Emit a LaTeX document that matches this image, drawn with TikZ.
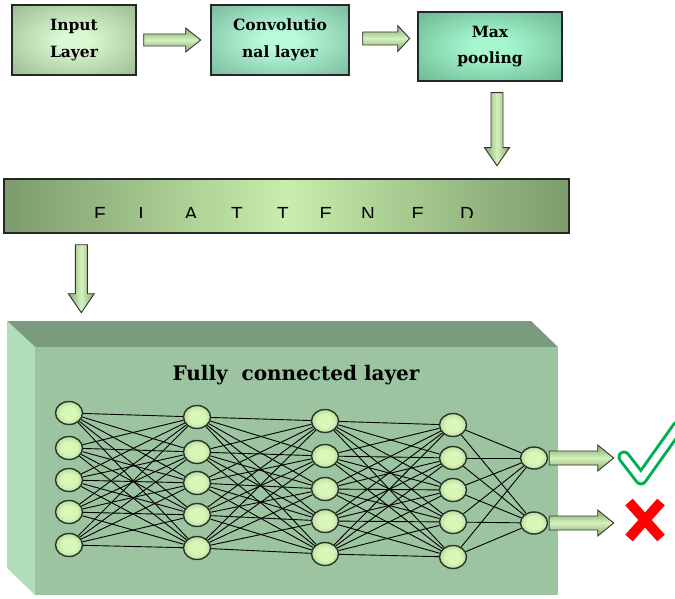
\documentclass[tikz,border=0pt]{standalone}
\usepackage{fontspec}
\setmainfont{DejaVu Serif}
\newfontfamily\flatfont{Liberation Sans}
\usetikzlibrary{shapes.geometric,calc}
\definecolor{inC}{HTML}{DAF8D2}
\definecolor{inE}{HTML}{7E9E72}
\definecolor{convC}{HTML}{B8FCDC}
\definecolor{convE}{HTML}{5E9A7E}
\definecolor{maxC}{HTML}{A6F7D0}
\definecolor{maxE}{HTML}{4F9A72}
\definecolor{flatE}{HTML}{7C9B6C}
\definecolor{flatC}{HTML}{C8EDAC}
\definecolor{arrE}{HTML}{86A66A}
\definecolor{arrC}{HTML}{D4F2BC}
\definecolor{nC}{HTML}{D8F8B8}
\definecolor{nE}{HTML}{7E9E66}
\definecolor{nLine}{HTML}{2A352A}
\definecolor{boxTop}{HTML}{7B9A7E}
\definecolor{boxFront}{HTML}{9DC4A1}
\definecolor{boxLeft}{HTML}{B1DEBA}
\definecolor{okgreen}{HTML}{00B050}
\pgfdeclareradialshading{inglow}{\pgfpoint{0bp}{0bp}}{color(0bp)=(inC); color(6bp)=(inC); color(50bp)=(inE)}
\pgfdeclareradialshading{convglow}{\pgfpoint{0bp}{0bp}}{color(0bp)=(convC); color(6bp)=(convC); color(50bp)=(convE)}
\pgfdeclareradialshading{maxglow}{\pgfpoint{0bp}{0bp}}{color(0bp)=(maxC); color(6bp)=(maxC); color(50bp)=(maxE)}
\pgfdeclareradialshading{neuronglow}{\pgfpoint{0bp}{0bp}}{color(0bp)=(nC); color(14bp)=(nC); color(50bp)=(nE)}
\begin{document}
\begin{tikzpicture}[x=1pt,y=-1pt,
  stage/.style={draw=black!85, line width=1.4pt, minimum height=70, align=center,
    shade, font=\fontsize{15.5}{26.5}\selectfont\bfseries},
  arrsty/.style={draw=black!80, line width=0.9pt, top color=arrE, bottom color=arrE, middle color=arrC},
  varrsty/.style={draw=black!80, line width=0.9pt, left color=arrE, right color=arrE, middle color=arrC},
  neuron/.style={ellipse, draw=nLine, line width=1.4pt, shade, shading=neuronglow,
    minimum width=27, minimum height=23, inner sep=0},
  wire/.style={line width=0.9pt, black},
  flatletter/.style={font=\flatfont\fontsize{19}{19}\selectfont, anchor=base, inner sep=0}
]
\useasboundingbox (0,0) rectangle (675,599);

% top row
\node[stage, shading=inglow, minimum width=124] (in) at (74,40) {Input\\Layer};
\node[stage, shading=convglow, minimum width=138] (conv) at (280,40) {Convolutio\\nal layer};
\node[stage, shading=maxglow, minimum width=144, minimum height=69] (max) at (490,46.5) {Max\\pooling};

\draw[arrsty] ($(in.east)+(7,-6)$) -- ++(42,0) -- ++(0,-6) -- ++(15,12) -- ++(-15,12) -- ++(0,-6) -- ++(-42,0) -- cycle;
\draw[arrsty] ($(conv.east)+(13,-8)$) -- ++(35,0) -- ++(0,-6.5) -- ++(12,13) -- ++(-12,13) -- ++(0,-6.5) -- ++(-35,0) -- cycle;
\draw[varrsty] ($(max.south)+(1,11)$) -- ++(0,55) -- ++(-6.5,0) -- ++(12.5,18) -- ++(12.5,-18) -- ++(-6.5,0) -- ++(0,-55) -- cycle;

% flattened bar
\node[draw=black!85, line width=1.4pt, minimum width=565, minimum height=54,
  left color=flatE, right color=flatE, middle color=flatC] (flat) at (286.5,206) {};
\begin{scope}
\clip (4,179) rectangle (569,217.2);
\foreach \ch/\xx [count=\i] in {F/100,L/144,A/191,T/237,T/283,E/326,N/368,E/418,D/467}
  \node[flatletter] (fl\i) at (\xx,220) {\ch};
\end{scope}

\draw[varrsty] ($(flat.south west)+(72,11)$) -- ++(0,49) -- ++(-7,0) -- ++(13,19) -- ++(13,-19) -- ++(-7,0) -- ++(0,-49) -- cycle;

% 3D box
\fill[boxTop] (7,321) -- (531,321) -- (558,347) -- (35,347) -- cycle;
\fill[boxLeft] (7,321) -- (35,347) -- (35,595) -- (7,568) -- cycle;
\fill[boxFront] (35,347) rectangle (558,595);

\node[font=\fontsize{20}{24}\selectfont\bfseries] (title) at (296,375) {Fully\ \ connected layer};

% neurons
\foreach \y [count=\i] in {413,448,480,512,545} \node[neuron] (a\i) at (69,\y) {};
\foreach \y [count=\i] in {417,452,483,515,548} \node[neuron] (b\i) at (197,\y) {};
\foreach \y [count=\i] in {421,456,489,521,554} \node[neuron] (c\i) at (325,\y) {};
\foreach \y [count=\i] in {425,458,490,522,557} \node[neuron] (d\i) at (453,\y) {};
\foreach \y [count=\i] in {458,523} \node[neuron, minimum height=22] (e\i) at (534,\y) {};

\foreach \i in {1,...,5} \foreach \j in {1,...,5} {
  \draw[wire] (a\i) -- (b\j);
  \draw[wire] (b\i) -- (c\j);
  \draw[wire] (c\i) -- (d\j);
}
\foreach \i in {1,...,5} \foreach \j in {1,2} \draw[wire] (d\i) -- (e\j);

% output arrows
\draw[arrsty] ($(e1.east)+(1,-7)$) -- ++(48.5,0) -- ++(0,-6) -- ++(16,13) -- ++(-16,13) -- ++(0,-6) -- ++(-48.5,0) -- cycle;
\draw[arrsty] ($(e2.east)+(1,-7)$) -- ++(48.5,0) -- ++(0,-6) -- ++(16,13) -- ++(-16,13) -- ++(0,-6) -- ++(-48.5,0) -- cycle;

% check and cross
\begin{scope}
\clip (0,0) rectangle (675,599);
\draw[okgreen, line width=13, line cap=round, line join=round] (624,457) -- (641,479) -- (678,427);
\draw[white, line width=7, line cap=round, line join=round] (624,457) -- (641,479) -- (678,427);
\end{scope}
\draw[red, line width=10] (629,502) -- (661,538);
\draw[red, line width=10] (661,502) -- (629,538);
\end{tikzpicture}
\end{document}
